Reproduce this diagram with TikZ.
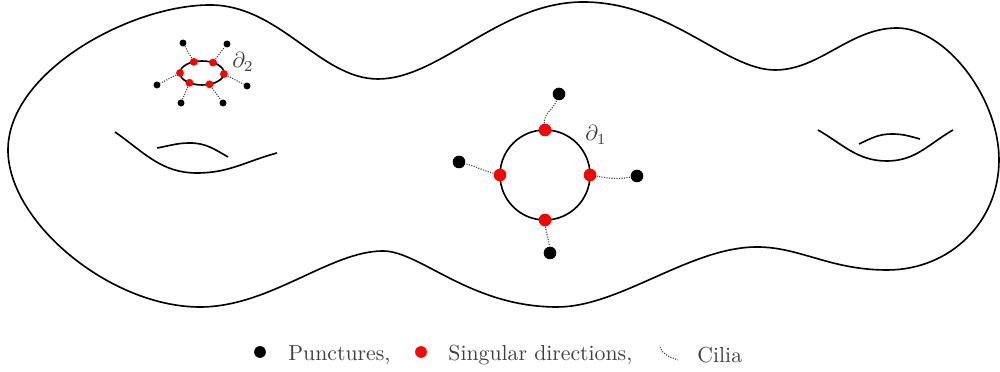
\documentclass[tikz,border=0pt]{standalone}
\usetikzlibrary{calc}
\begin{document}
\begin{tikzpicture}[x=0.46pt,y=0.46pt,
  surf/.style={line width=0.75pt},
  sing/.style={circle,fill=red,inner sep=0pt,minimum size=5.8pt},
  punc/.style={circle,fill=black,inner sep=0pt,minimum size=5.8pt},
  ssing/.style={circle,fill=red,inner sep=0pt,minimum size=3.6pt},
  spunc/.style={circle,fill=black,inner sep=0pt,minimum size=3.2pt},
  cilia/.style={line width=0.5pt,dash pattern=on 0.5pt off 0.65pt,black!75},
  lbl/.style={text=black!75,inner sep=0pt},
  legtext/.style={text=black!75,anchor=west,inner sep=0pt}]
\useasboundingbox (0,0) rectangle (1000,372);
% outer surface
\coordinate (A) at (8,222);
\coordinate (B) at (210,367);
\coordinate (C) at (378,293);
\coordinate (D) at (583,370);
\coordinate (E) at (775,302);
\coordinate (F) at (897,344);
\coordinate (G) at (999,212);
\coordinate (H) at (887,102);
\coordinate (I) at (757,125);
\coordinate (J) at (557,65);
\coordinate (K) at (383,121);
\coordinate (L) at (200,65);
\draw[surf] (A) .. controls (8,300) and (130,367) .. (B)
  .. controls (280,367) and (320,293) .. (C)
  .. controls (440,293) and (500,370) .. (D)
  .. controls (670,370) and (725,302) .. (E)
  .. controls (820,302) and (850,344) .. (F)
  .. controls (945,344) and (999,275) .. (G)
  .. controls (999,150) and (950,102) .. (H)
  .. controls (830,102) and (800,125) .. (I)
  .. controls (690,125) and (620,65) .. (J)
  .. controls (470,65) and (420,121) .. (K)
  .. controls (330,121) and (270,65) .. (L)
  .. controls (110,65) and (8,150) .. (A) -- cycle;
% left handle
\draw[surf] (115,240) to[out=-35,in=180] (197,199) to[out=0,in=195] (277,219);
\draw[surf] (157,224) to[out=10,in=180] (190,229) to[out=0,in=150] (228,215);
% right handle
\draw[surf] (818,242) to[out=-30,in=180] (887,211) to[out=0,in=210] (953,242);
\draw[surf] (859,228) to[out=25,in=180] (892,238) to[out=0,in=165] (920,233);
% boundary 1
\draw[surf] (545,197) circle[radius=45];
\node[sing] (r1) at (545,242) {};
\node[sing] (r2) at (500,197) {};
\node[sing] (r3) at (590,197) {};
\node[sing] (r4) at (545,152) {};
\node[punc] (p1) at (559,278) {};
\node[punc] (p2) at (459,210) {};
\node[punc] (p3) at (637,196) {};
\node[punc] (p4) at (550,119) {};
\draw[cilia] (r1) to[out=95,in=250] (p1);
\draw[cilia] (r2) to[out=165,in=-15] (p2);
\draw[cilia] (r3) to[out=-10,in=190] (p3);
\draw[cilia] (r4) to[out=-85,in=95] (p4);
\node[lbl] (d1) at (596,237) {$\partial_1$};
% boundary 2
\draw[surf] (202,299) ellipse[x radius=22,y radius=12];
\node[ssing] (s1) at (193.8,310.1) {};
\node[ssing] (s2) at (213,309.4) {};
\node[ssing] (s3) at (180,299) {};
\node[ssing] (s4) at (223.9,298) {};
\node[ssing] (s5) at (189.4,289.2) {};
\node[ssing] (s6) at (209.5,287.7) {};
\node[spunc] (q1) at (183,329) {};
\node[spunc] (q2) at (227,328) {};
\node[spunc] (q3) at (157,287) {};
\node[spunc] (q4) at (247,286) {};
\node[spunc] (q5) at (181,269) {};
\node[spunc] (q6) at (223,269) {};
\draw[cilia] (s1) -- (q1);
\draw[cilia] (s2) -- (q2);
\draw[cilia] (s3) -- (q3);
\draw[cilia] (s4) -- (q4);
\draw[cilia] (s5) -- (q5);
\draw[cilia] (s6) -- (q6);
\node[lbl] (d2) at (243,310) {$\partial_2$};
% legend
\node[punc,minimum size=5.4pt] (lp) at (260,20) {};
\node[legtext] (lpt) at (288,17) {Punctures,};
\node[sing,minimum size=5.4pt] (ls) at (421,20) {};
\node[legtext] (lst) at (448,17) {Singular directions,};
\coordinate (lc1) at (660,25);
\coordinate (lc2) at (678,12);
\draw[cilia] (lc1) to[out=-70,in=160] (lc2);
\node[legtext] (lct) at (697,17) {Cilia};
\end{tikzpicture}
\end{document}
